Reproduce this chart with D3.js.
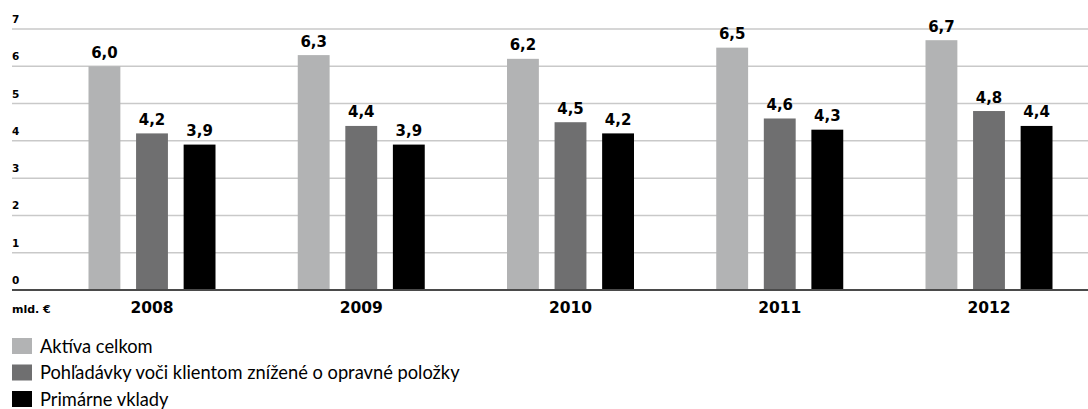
<!DOCTYPE html>
<html>
<head>
<meta charset="utf-8">
<script src="https://cdn.jsdelivr.net/npm/d3@7"></script>
<style>
  html, body { margin: 0; padding: 0; background: #fff; }
  svg { display: block; }
</style>
</head>
<body>
<svg id="chart" width="1088" height="409"></svg>
<script>
// Bank balance sheet figures, billions of euro
const years = ["2008", "2009", "2010", "2011", "2012"];
const seriesNames = [
  "Aktíva celkom",
  "Pohľadávky voči klientom znížené o opravné položky",
  "Primárne vklady"
];
const aktiva      = [6.0, 6.3, 6.2, 6.5, 6.7];
const pohladavky  = [4.2, 4.4, 4.5, 4.6, 4.8];
const vklady      = [3.9, 3.9, 4.2, 4.3, 4.4];
const yTicks = [0, 1, 2, 3, 4, 5, 6, 7];
const unitLabel = "mld. €";
const colors = ["#b2b3b4", "#6f6f70", "#000000"];

const seriesValues = [aktiva, pohladavky, vklady];

const svg = d3.select("#chart");
const left = 12, right = 1088;
const y = d3.scaleLinear().domain([0, 7]).range([290, 29]);
const x = d3.scalePoint().domain(years).range([152, 989]);
const xInner = d3.scaleBand().domain(d3.range(seriesNames.length))
  .range([-63.5, 63.5]).paddingInner(0.33).paddingOuter(0);

const fmt = v => d3.format(".1f")(v).replace(".", ",");

// horizontal gridlines with tick labels above them
const grid = svg.append("g");
grid.selectAll("line").data(yTicks.filter(t => t > 0)).join("line")
  .attr("x1", left).attr("x2", right)
  .attr("y1", d => y(d)).attr("y2", d => y(d))
  .attr("stroke", "#c9c9c9").attr("stroke-width", 1.5);
grid.selectAll("text").data(yTicks).join("text")
  .attr("x", left).attr("y", d => y(d) - 6)
  .attr("font-family", "DejaVu Sans").attr("font-weight", "bold")
  .attr("font-size", 10.5).attr("fill", "#000")
  .text(d => d);

// bars
const groups = svg.append("g").selectAll("g").data(years).join("g")
  .attr("transform", d => `translate(${x(d)},0)`);
groups.each(function (yr, i) {
  const g = d3.select(this);
  const vals = seriesValues.map(s => s[i]);
  g.selectAll("rect").data(vals).join("rect")
    .attr("x", (d, j) => xInner(j))
    .attr("width", xInner.bandwidth())
    .attr("y", d => y(d))
    .attr("height", d => y(0) - y(d))
    .attr("fill", (d, j) => colors[j]);
  g.selectAll("text.val").data(vals).join("text")
    .attr("class", "val")
    .attr("x", (d, j) => xInner(j) + xInner.bandwidth() / 2)
    .attr("y", d => y(d) - 8.5)
    .attr("text-anchor", "middle")
    .attr("font-family", "DejaVu Sans").attr("font-weight", "bold")
    .attr("font-size", 15).attr("fill", "#000")
    .text(d => fmt(d));
});

// baseline
svg.append("line")
  .attr("x1", left).attr("x2", right)
  .attr("y1", y(0)).attr("y2", y(0))
  .attr("stroke", "#4a4a4a").attr("stroke-width", 2);

// category labels
svg.append("g").selectAll("text").data(years).join("text")
  .attr("x", d => x(d)).attr("y", 313)
  .attr("text-anchor", "middle")
  .attr("font-family", "DejaVu Sans").attr("font-weight", "bold")
  .attr("font-size", 15.5).attr("fill", "#000")
  .text(d => d);

svg.append("text")
  .attr("x", left).attr("y", 313)
  .attr("font-family", "DejaVu Sans").attr("font-weight", "bold")
  .attr("font-size", 11).attr("fill", "#000")
  .text(unitLabel);

// legend
const legend = svg.append("g").selectAll("g").data(seriesNames).join("g")
  .attr("transform", (d, i) => `translate(${left},${338 + i * 26.5})`);
legend.append("rect")
  .attr("width", 20).attr("height", 16)
  .attr("fill", (d, i) => colors[i]);
legend.append("text")
  .attr("x", 28).attr("y", 14.5)
  .attr("font-family", "Lato").attr("font-size", 18.3).attr("fill", "#000")
  .text(d => d);
</script>
</body>
</html>
